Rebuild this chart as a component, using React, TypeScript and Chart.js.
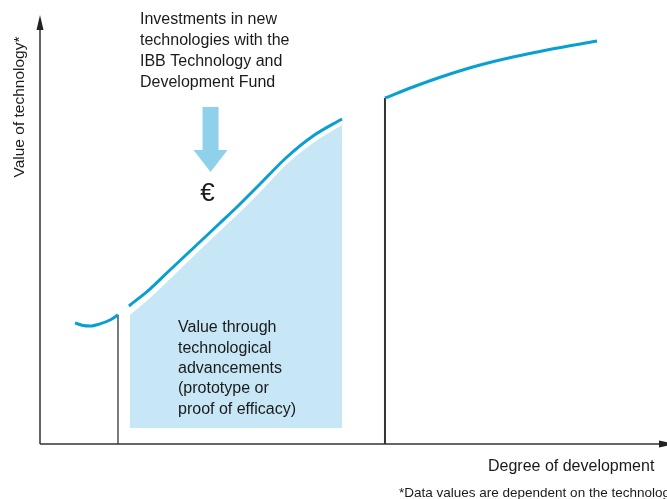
import React, { useEffect, useRef } from "react";
import { Chart, registerables } from "chart.js";

Chart.register(...registerables);

// Early-stage curve (before funding)
const seg1X = [5.58, 6.7, 7.97, 9.57, 11.16, 12.44];
const seg1Y = [28.2, 27.7, 27.5, 28.0, 28.9, 30.1];

// Funded growth curve
const seg2X = [14.19, 17.54, 20.73, 26.0, 28.71, 31.58, 35.09, 39.39, 43.54, 48.17];
const seg2Y = [32.17, 36.13, 40.56, 47.79, 51.52, 55.48, 60.61, 66.9, 71.79, 75.76];

// Shaded area: value through technological advancements
const areaX = [14.35, 17.54, 20.73, 26.0, 28.71, 31.58, 35.09, 39.39, 43.54, 48.17];
const areaTop = [30.07, 34.03, 38.46, 45.92, 49.65, 53.61, 58.74, 65.27, 70.16, 74.36];
const areaBase = 3.73;

// Later development curve
const seg3X = [55.02, 59.49, 64.91, 70.18, 75.44, 80.86, 88.84];
const seg3Y = [80.65, 83.22, 86.01, 88.34, 90.21, 91.84, 93.94];

// Vertical step markers
const markerX = [12.44, 55.02];
const markerTop = [30.1, 80.65];

const yTitle = "Value of technology*";
const xTitle = "Degree of development";
const footnote = "*Data values are dependent on the technology.";
const topNote = ["Investments in new", "technologies with the", "IBB Technology and", "Development Fund"];
const areaNote = ["Value through", "technological", "advancements", "(prototype or", "proof of efficacy)"];

const BLUE = "#0a9fd2";
const FONT = "'Liberation Sans', Arial, sans-serif";

const pts = (xs: number[], ys: number[]) => xs.map((x, i) => ({ x, y: ys[i] }));

export default function App() {
  const ref = useRef<HTMLCanvasElement | null>(null);

  useEffect(() => {
    if (!ref.current) return;

    const overlay = {
      id: "overlay",
      afterDatasetsDraw(chart: any) {
        const { ctx, chartArea } = chart;
        const L = chartArea.left;
        const B = chartArea.bottom;
        const xs = chart.scales.x;
        ctx.save();
        // axes
        ctx.strokeStyle = "#333";
        ctx.fillStyle = "#222";
        ctx.lineWidth = 1.5;
        ctx.beginPath();
        ctx.moveTo(L, B);
        ctx.lineTo(L, 28);
        ctx.moveTo(L, B);
        ctx.lineTo(660, B);
        ctx.stroke();
        ctx.beginPath();
        ctx.moveTo(L, 15);
        ctx.lineTo(L - 3.5, 30);
        ctx.lineTo(L + 3.5, 30);
        ctx.closePath();
        ctx.fill();
        ctx.beginPath();
        ctx.moveTo(674, B);
        ctx.lineTo(659, B - 3.5);
        ctx.lineTo(659, B + 3.5);
        ctx.closePath();
        ctx.fill();

        // arrow
        ctx.fillStyle = "#8fd0ea";
        const ax = xs.getPixelForValue(27.2);
        ctx.fillRect(ax - 8, 107, 16, 44);
        ctx.beginPath();
        ctx.moveTo(ax - 17, 150);
        ctx.lineTo(ax + 17, 150);
        ctx.lineTo(ax, 172);
        ctx.closePath();
        ctx.fill();

        ctx.fillStyle = "#1a1a1a";
        ctx.textBaseline = "middle";
        ctx.textAlign = "left";
        ctx.font = `16px ${FONT}`;
        topNote.forEach((t, i) => ctx.fillText(t, 140, 20 + i * 21));
        areaNote.forEach((t, i) => ctx.fillText(t, 178, 328 + i * 20.3));
        ctx.font = `26px ${FONT}`;
        ctx.textAlign = "center";
        ctx.fillText("€", ax - 3, 194);

        ctx.font = `16px ${FONT}`;
        ctx.textAlign = "left";
        ctx.fillText(xTitle, 488, 467);
        ctx.font = `13.5px ${FONT}`;
        ctx.fillText(footnote, 399, 493);

        ctx.translate(20, 107);
        ctx.rotate(-Math.PI / 2);
        ctx.textAlign = "center";
        ctx.font = `15.5px ${FONT}`;
        ctx.fillText(yTitle, 0, 0);
        ctx.restore();
      },
    };

    const line = (data: any[], color: string, width: number, order: number) => ({
      data,
      borderColor: color,
      borderWidth: width,
      pointRadius: 0,
      fill: false,
      tension: 0.4,
      cubicInterpolationMode: "monotone" as const,
      order,
    });

    const chart = new Chart(ref.current, {
      type: "line",
      data: {
        datasets: [
          {
            data: pts(areaX, areaTop),
            borderWidth: 0,
            borderColor: "rgba(0,0,0,0)",
            backgroundColor: "#c8e7f6",
            pointRadius: 0,
            fill: { value: areaBase },
            cubicInterpolationMode: "monotone",
            order: 10,
          } as any,
          line(pts(seg1X, seg1Y), BLUE, 3, 1),
          line(pts(seg2X, seg2Y), BLUE, 3, 1),
          line(pts(seg3X, seg3Y), BLUE, 3, 1),
          line([{ x: markerX[0], y: 0 }, { x: markerX[0], y: markerTop[0] }], "#222", 1.2, 2),
          line([{ x: markerX[1], y: 0 }, { x: markerX[1], y: markerTop[1] }], "#333", 2, 2),
        ],
      },
      options: {
        responsive: false,
        animation: false,
        parsing: true,
        layout: { padding: { left: 40, top: 15, right: 0, bottom: 55 } },
        plugins: { legend: { display: false }, tooltip: { enabled: false } },
        scales: {
          x: { type: "linear", min: 0, max: 100, display: false },
          y: { type: "linear", min: 0, max: 100, display: false },
        },
      },
      plugins: [overlay],
    });
    return () => chart.destroy();
  }, []);

  return (
    <div style={{ position: "fixed", left: 0, top: 0, width: 667, height: 499, background: "#fff" }}>
      <canvas ref={ref} width={667} height={499} style={{ display: "block" }} />
    </div>
  );
}
